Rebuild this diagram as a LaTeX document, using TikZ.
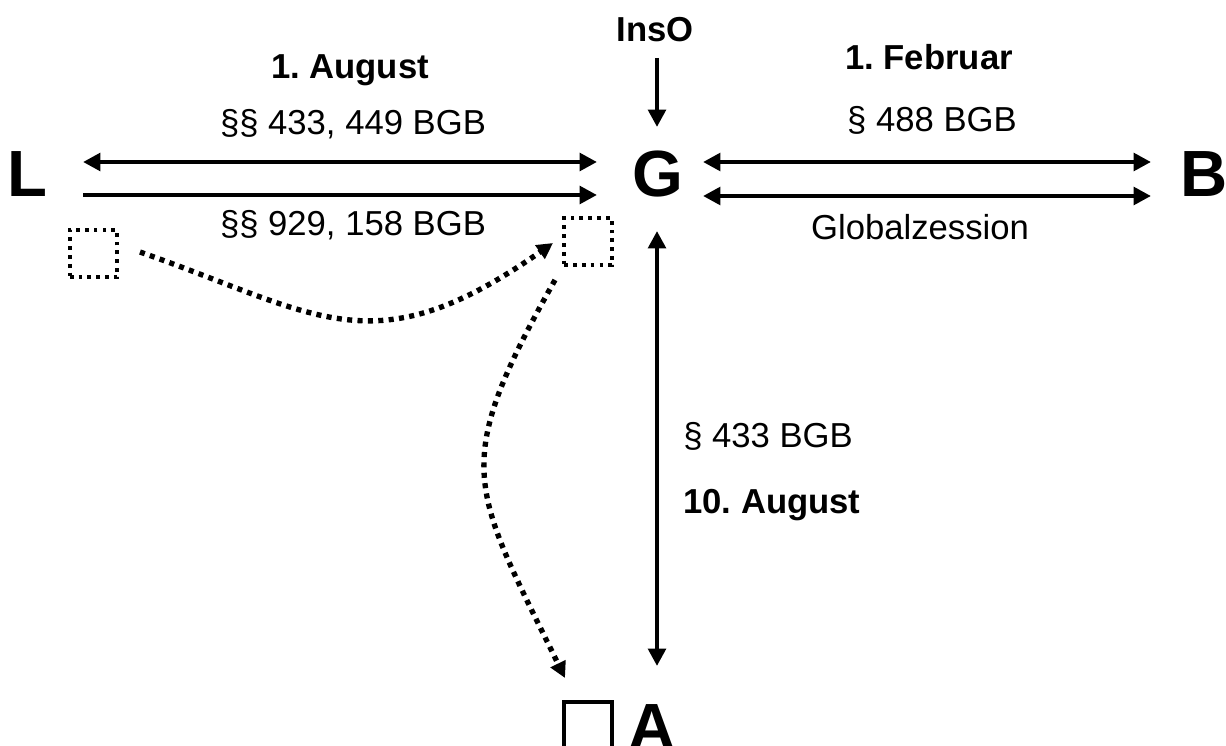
\documentclass[tikz,border=0pt]{standalone}
\usepackage{fontspec}
\setmainfont{Liberation Sans}
\usetikzlibrary{arrows.meta}
\frenchspacing
\begin{document}
\begin{tikzpicture}[x=0.75pt,y=-0.75pt,
 txt/.style={font=\fontsize{26pt}{30pt}\selectfont, inner sep=0pt, anchor=base},
 btxt/.style={font=\fontsize{26pt}{30pt}\selectfont\bfseries, inner sep=0pt, anchor=base},
 party/.style={font=\fontsize{49pt}{55pt}\selectfont\bfseries, inner sep=0pt, anchor=base},
 conn/.style={line width=3.4pt, -{Triangle[length=13pt,width=13pt]}},
 conntwo/.style={line width=3.4pt, {Triangle[length=13pt,width=13pt]}-{Triangle[length=13pt,width=13pt]}},
 dotsq/.style={draw, line width=2.8pt, dash pattern=on 2.8pt off 3.8pt, minimum size=35.5pt, inner sep=0pt},
 dotarrow/.style={line width=4pt, dash pattern=on 3.8pt off 4pt, -{Triangle[length=12pt,width=12pt]}},
]
\useasboundingbox[fill=white] (0,0) rectangle (1226,745);

% parties
\node[party, anchor=base west] (L) at (7,197) {L};
\node[party] (G) at (657.5,197) {G};
\node[party, anchor=base west] (B) at (1180,197) {B};
\node[party, anchor=base west] (A) at (628,749) {A};
\node[btxt] (insO) at (655,42) {InsO};

% squares
\node[dotsq] (sqL) at (93.5,253.5) {};
\node[dotsq] (sqG) at (588,241.5) {};
\node[draw, line width=2.6pt, minimum size=36pt, inner sep=0pt] (sqA) at (588,726) {};

% connector ends
\coordinate (l1) at (83,162);
\coordinate (g1) at (597,162);
\coordinate (l2) at (83,195);
\coordinate (g2) at (597,195);
\coordinate (g3) at (703,162);
\coordinate (b3) at (1151,162);
\coordinate (g4) at (703,196);
\coordinate (b4) at (1151,196);
\coordinate (i1) at (657,58);
\coordinate (i2) at (657,127);
\coordinate (g5) at (657,231);
\coordinate (a5) at (657,666);
\coordinate (c1s) at (140,252);
\coordinate (c1e) at (553,243);
\coordinate (c2s) at (555,280);
\coordinate (c2e) at (565,678);

% connectors
\draw[conntwo] (l1) -- (g1);
\draw[conn] (l2) -- (g2);
\draw[conntwo] (g3) -- (b3);
\draw[conntwo] (g4) -- (b4);
\draw[conn] (i1) -- (i2);
\draw[conntwo] (g5) -- (a5);
\draw[dotarrow] (c1s) .. controls (320,315) and (373,369) .. (c1e);
\draw[dotarrow] (c2s) .. controls (449.6,467) and (470.4,484.5) .. (c2e);

% labels
\node[btxt] (t1) at (350,79) {1. August};
\node[txt] (t2) at (353,135) {§§ 433, 449 BGB};
\node[txt] (t3) at (353,235) {§§ 929, 158 BGB};
\node[btxt] (t4) at (929,70) {1. Februar};
\node[txt] (t5) at (932,132) {§ 488 BGB};
\node[txt] (t6) at (920,239) {Globalzession};
\node[txt, anchor=base west] (t7) at (683,447) {§ 433 BGB};
\node[btxt, anchor=base west] (t8) at (683,513) {10. August};
\end{tikzpicture}
\end{document}
